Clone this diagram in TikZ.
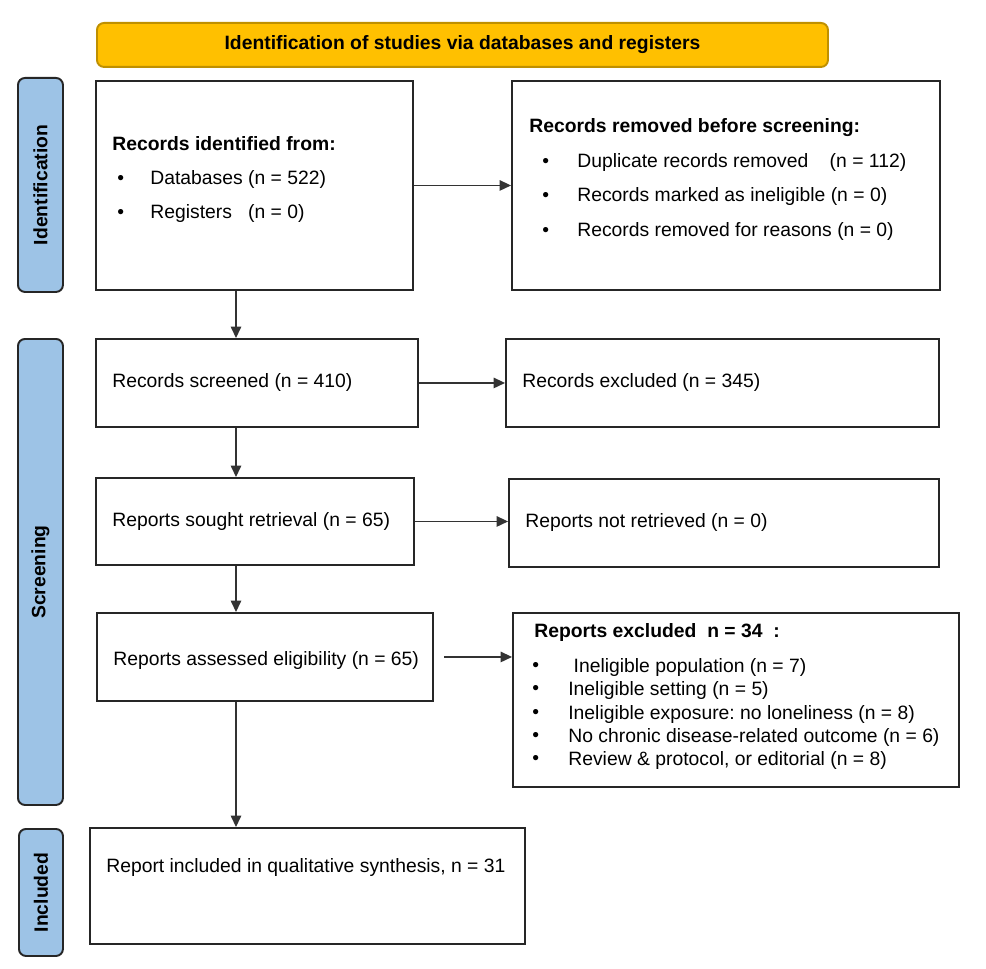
\documentclass[tikz,border=0pt]{standalone}
\usepackage{fontspec}
\setmainfont{Liberation Sans}
\usepackage{tikz}
\usetikzlibrary{arrows.meta,positioning}
\usepackage{xcolor}
\definecolor{prismagold}{HTML}{FFC000}
\definecolor{prismagoldline}{HTML}{BF9000}
\definecolor{prismablue}{HTML}{9DC3E6}
\frenchspacing

\begin{document}
\begin{tikzpicture}[x=0.02cm, y=-0.02cm,
        every node/.style={font=\fontsize{11}{13}\selectfont},
        box/.style 2 args={draw=black!85, line width=1.1pt, rectangle, anchor=north west, inner sep=0pt,
            minimum width=#1*0.02cm, minimum height=#2*0.02cm},
        phase/.style 2 args={draw=black!85, line width=1.1pt, fill=prismablue, rounded corners=4pt,
            anchor=north west, inner sep=0pt, minimum width=#1*0.02cm, minimum height=#2*0.02cm},
        txt/.style={anchor=west, inner sep=0pt},
        flow/.style={line width=0.7pt, black!80, -{Triangle[length=6.5pt, width=6pt]}}]

        % Page frame
        \useasboundingbox (0,0) rectangle (986,969);

        % Header
        \node[box={731}{44}, draw=prismagoldline, fill=prismagold, rounded corners=4pt] (head) at (96,22) {};
        \node[font=\fontsize{11}{13}\selectfont\bfseries] (headtxt) at (head.center) {Identification of studies via databases and registers};

        % Phase bars
        \node[phase={45}{214}] (idphase) at (17,77) {};
        \node[phase={45}{466}] (scphase) at (17,338) {};
        \node[phase={44}{127}] (inphase) at (18,828) {};
        \foreach \ph/\lbl in {idphase/Identification, scphase/Screening, inphase/Included} {
            \node[rotate=90, font=\fontsize{11}{13}\selectfont\bfseries] (\ph txt) at (\ph.center) {\lbl};
        }

        % Boxes
        \node[box={317}{209}] (idbox) at (95,80) {};
        \node[box={428}{209}] (rmbox) at (511,80) {};
        \node[box={322}{88}] (scbox) at (95,338) {};
        \node[box={433}{88}] (exbox) at (505,338) {};
        \node[box={318}{87}] (sgbox) at (95,477) {};
        \node[box={430}{88}] (nrbox) at (508,478) {};
        \node[box={336}{88}] (elbox) at (96,612) {};
        \node[box={446}{174}] (rxbox) at (512,612) {};
        \node[box={435}{116}] (inbox) at (89,827) {};

        % Records identified
        \node[txt, font=\fontsize{11}{13}\selectfont\bfseries] (idtitle) at (112,144) {Records identified from:};
        \foreach \y/\txt [count=\i] in {180/Databases (n = 522), 214/Registers~~~(n = 0)} {
            \node[txt] (iddot\i) at (117,\y) {\textbullet};
            \node[txt] (idtxt\i) at (150,\y) {\txt};
        }

        % Records removed
        \node[txt, font=\fontsize{11}{13}\selectfont\bfseries] (rmtitle) at (529,128) {Records removed before screening:};
        \foreach \y/\txt [count=\i] in {
            163/Duplicate records removed~~~~(n = 112),
            197/Records marked as ineligible (n = 0),
            232/Records removed for reasons (n = 0)
        } {
            \node[txt] (rmdot\i) at (542,\y) {\textbullet};
            \node[txt] (rmtxt\i) at (577,\y) {\txt};
        }

        % Single line boxes
        \node[txt] (sctxt) at (112,382) {Records screened (n = 410)};
        \node[txt] (extxt) at (522,382) {Records excluded (n = 345)};
        \node[txt] (sgtxt) at (112,521) {Reports sought retrieval (n = 65)};
        \node[txt] (nrtxt) at (525,522) {Reports not retrieved (n = 0)};
        \node[txt] (eltxt) at (113,660) {Reports assessed eligibility (n = 65)};
        \node[txt] (intxt) at (106,867) {Report included in qualitative synthesis, n = 31};

        % Reports excluded
        \node[txt, font=\fontsize{11}{13}\selectfont\bfseries] (rxtitle) at (534,632) {Reports excluded~~n = 34~~:};
        \foreach \y/\txt [count=\i] in {
            667/~Ineligible population (n = 7),
            690/Ineligible setting (n = 5),
            714/Ineligible exposure: no loneliness (n = 8),
            737/No chronic disease-related outcome (n = 6),
            760/{Review \& protocol, or editorial (n = 8)}
        } {
            \node[txt] (rxdot\i) at (532,\y) {\textbullet};
            \node[txt] (rxtxt\i) at (568,\y) {\txt};
        }

        % Connectors
        \coordinate (spine) at (236,0);
        \draw[flow] (idbox.south -| spine) -- (scbox.north -| spine);
        \draw[flow] (scbox.south -| spine) -- (sgbox.north -| spine);
        \draw[flow] (sgbox.south -| spine) -- (elbox.north -| spine);
        \draw[flow] (elbox.south -| spine) -- (inbox.north -| spine);
        \draw[flow] (idbox.east) -- (idbox.east -| rmbox.west);
        \draw[flow] (scbox.east) -- (scbox.east -| exbox.west);
        \draw[flow] (sgbox.east) -- (sgbox.east -| nrbox.west);
        \draw[flow, shorten <=6pt] (elbox.east) -- (elbox.east -| rxbox.west);
    \end{tikzpicture}
\end{document}
